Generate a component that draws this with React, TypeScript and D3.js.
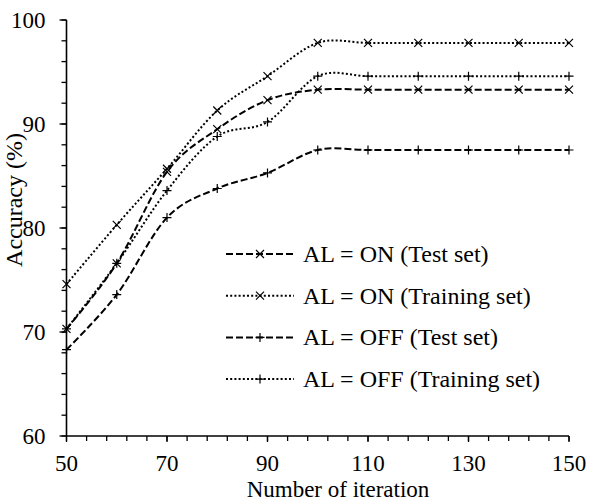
import { useEffect, useRef } from "react"
import * as d3 from "d3"

const iterations = [50, 60, 70, 80, 90, 100, 110, 120, 130, 140, 150]
const onTest = [70.3, 76.6, 85.4, 89.5, 92.3, 93.3, 93.3, 93.3, 93.3, 93.3, 93.3]
const onTraining = [74.6, 80.3, 85.7, 91.3, 94.6, 97.8, 97.8, 97.8, 97.8, 97.8, 97.8]
const offTest = [68.3, 73.6, 81.0, 83.8, 85.3, 87.5, 87.5, 87.5, 87.5, 87.5, 87.5]
const offTraining = [70.3, 76.6, 83.6, 88.8, 90.2, 94.6, 94.6, 94.6, 94.6, 94.6, 94.6]

const seriesNames = [
	"AL = ON (Test set)",
	"AL = ON (Training set)",
	"AL = OFF (Test set)",
	"AL = OFF (Training set)",
]
const xTicks = [50, 70, 90, 110, 130, 150]
const yTicks = [60, 70, 80, 90, 100]

const FONT = '"Liberation Serif", "Times New Roman", Times, serif'

function App() {
	const ref = useRef<SVGSVGElement>(null)
	const width = 590
	const height = 502
	const margin = { top: 20, right: 21, bottom: 66, left: 66.5 }

	useEffect(() => {
		const svg = d3.select(ref.current)
		svg.selectAll("*").remove()

		const x = d3
			.scaleLinear()
			.domain([50, 150])
			.range([margin.left, width - margin.right])
		const y = d3
			.scaleLinear()
			.domain([60, 100])
			.range([height - margin.bottom, margin.top])

		const series = [
			{ name: seriesNames[0], values: onTest, dash: "7,3", width: 2, marker: "x" },
			{ name: seriesNames[1], values: onTraining, dash: "2,2.2", width: 2, marker: "x" },
			{ name: seriesNames[2], values: offTest, dash: "7,3", width: 2, marker: "+" },
			{ name: seriesNames[3], values: offTraining, dash: "2,2.2", width: 2, marker: "+" },
		]

		// ticks (minor + major), all pointing outward
		const axisG = svg.append("g")
		const tick = (data, x1, x2, y1, y2) =>
			axisG
				.append("g")
				.selectAll("line")
				.data(data)
				.enter()
				.append("line")
				.attr("x1", x1)
				.attr("x2", x2)
				.attr("y1", y1)
				.attr("y2", y2)
				.attr("stroke", "#000")
				.attr("stroke-width", 1.3)

		tick(d3.range(50, 151, 4), (d) => x(d), (d) => x(d), y(60), y(60) + 5)
		tick(xTicks, (d) => x(d), (d) => x(d), y(60), y(60) + 6)
		tick(d3.range(60, 101, 2), x(50) - 5, x(50), (d) => y(d), (d) => y(d))
		tick(yTicks, x(50) - 7, x(50), (d) => y(d), (d) => y(d))

		axisG
			.append("line")
			.attr("x1", x(50))
			.attr("x2", x(150))
			.attr("y1", y(60))
			.attr("y2", y(60))
			.attr("stroke", "#000")
			.attr("stroke-width", 1.6)
		axisG
			.append("line")
			.attr("x1", x(50))
			.attr("x2", x(50))
			.attr("y1", y(60))
			.attr("y2", y(100))
			.attr("stroke", "#000")
			.attr("stroke-width", 1.6)

		// tick labels
		svg
			.append("g")
			.selectAll("text")
			.data(xTicks)
			.enter()
			.append("text")
			.attr("x", (d) => x(d))
			.attr("y", y(60) + 34.5)
			.attr("text-anchor", "middle")
			.style("font-family", FONT)
			.style("font-size", "23px")
			.text((d) => d)
		svg
			.append("g")
			.selectAll("text")
			.data(yTicks)
			.enter()
			.append("text")
			.attr("x", x(50) - 21)
			.attr("y", (d) => y(d) + 7.5)
			.attr("text-anchor", "end")
			.style("font-family", FONT)
			.style("font-size", "23px")
			.text((d) => d)

		svg
			.append("text")
			.attr("x", 338)
			.attr("y", 496.5)
			.attr("text-anchor", "middle")
			.style("font-family", FONT)
			.style("font-size", "23px")
			.text("Number of iteration")
		svg
			.append("text")
			.attr("transform", "translate(22, 200) rotate(-90)")
			.attr("text-anchor", "middle")
			.style("font-family", FONT)
			.style("font-size", "24px")
			.text("Accuracy (%)")

		const line = d3
			.line<number>()
			.x((d, i) => x(iterations[i]))
			.y((d) => y(d))
			.curve(d3.curveCardinal.tension(0))

		const drawMarker = (g, cx, cy, type) => {
			const s = 4
			const d =
				type === "x"
					? `M${cx - s},${cy - s}L${cx + s},${cy + s}M${cx - s},${cy + s}L${cx + s},${cy - s}`
					: `M${cx - s - 0.5},${cy}L${cx + s + 0.5},${cy}M${cx},${cy - s - 0.5}L${cx},${cy + s + 0.5}`
			g.append("path")
				.attr("d", d)
				.attr("stroke", "#000")
				.attr("stroke-width", 1.2)
				.attr("fill", "none")
		}

		series.forEach((s) => {
			const g = svg.append("g")
			g.append("path")
				.attr("d", line(s.values))
				.attr("fill", "none")
				.attr("stroke", "#000")
				.attr("stroke-width", s.width)
				.attr("stroke-dasharray", s.dash)
			s.values.forEach((v, i) => drawMarker(g, x(iterations[i]), y(v), s.marker))
		})

		// legend
		const legend = svg.append("g")
		series.forEach((s, i) => {
			const ly = 254 + i * 41.7
			legend
				.append("line")
				.attr("x1", 226)
				.attr("x2", 294)
				.attr("y1", ly)
				.attr("y2", ly)
				.attr("stroke", "#000")
				.attr("stroke-width", s.width)
				.attr("stroke-dasharray", s.dash)
			drawMarker(legend, 260, ly, s.marker)
			legend
				.append("text")
				.attr("x", 303)
				.attr("y", ly + 8)
				.style("font-family", FONT)
				.style("font-size", "24px")
				.text(s.name)
		})
	}, [])

	return (
		<svg
			ref={ref}
			width={width}
			height={height}
			style={{ position: "absolute", left: 0, top: 0, background: "#fff" }}
		></svg>
	)
}

export default App
